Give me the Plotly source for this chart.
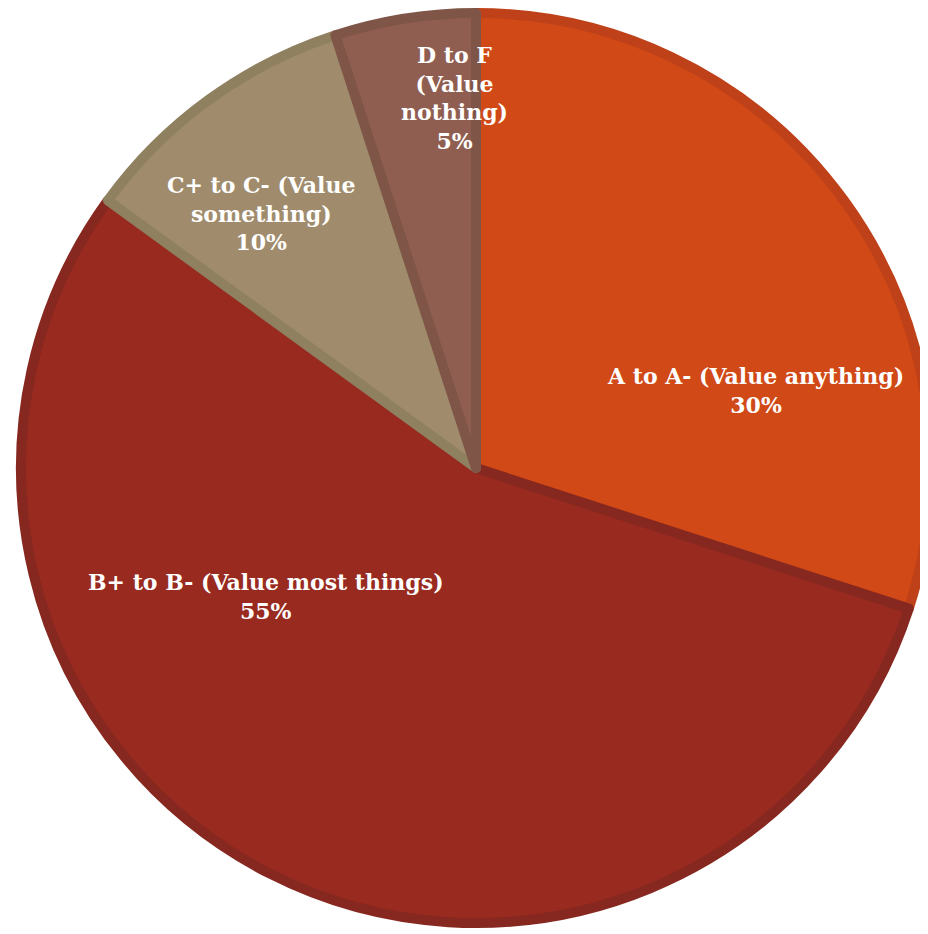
import plotly.graph_objects as go

W, H = 928, 934

labels = ["A to A- (Value anything)", "B+ to B- (Value most things)",
          "C+ to C- (Value something)", "D to F (Value nothing)"]
values = [30, 55, 10, 5]
label_text = ["A to A- (Value anything)<br>30%",
              "B+ to B- (Value most things)<br>55%",
              "C+ to C- (Value<br>something)<br>10%",
              "D to F<br>(Value<br>nothing)<br>5%"]

fill_colors = ["#D04916", "#982A1F", "#A08C6C", "#8F5E50"]
line_colors = ["#BE4119", "#862820", "#8F8060", "#7F5547"]

# label anchor positions in pixels (x, y from top)
label_pos = [(747, 382), (258, 588), (253, 205), (446, 90)]

fig = go.Figure(go.Pie(
    labels=labels,
    values=values,
    sort=False,
    direction="clockwise",
    rotation=0,
    textinfo="none",
    hoverinfo="none",
    marker=dict(colors=fill_colors, line=dict(color=line_colors, width=10)),
    domain=dict(x=[13 / W, 923 / W], y=[18 / H, 1 - 4 / H]),
    showlegend=False,
))

annotations = []
for txt, (px, py) in zip(label_text, label_pos):
    annotations.append(dict(
        x=px / W, y=1 - py / H, xref="paper", yref="paper",
        text=txt, showarrow=False, xanchor="center", yanchor="middle",
        align="center",
        font=dict(family="DejaVu Serif", size=22, color="white", weight="bold"),
    ))

fig.update_layout(
    width=W, height=H,
    margin=dict(l=0, r=0, t=0, b=0),
    paper_bgcolor="white",
    plot_bgcolor="white",
    annotations=annotations,
)

fig.write_html("out.html")
